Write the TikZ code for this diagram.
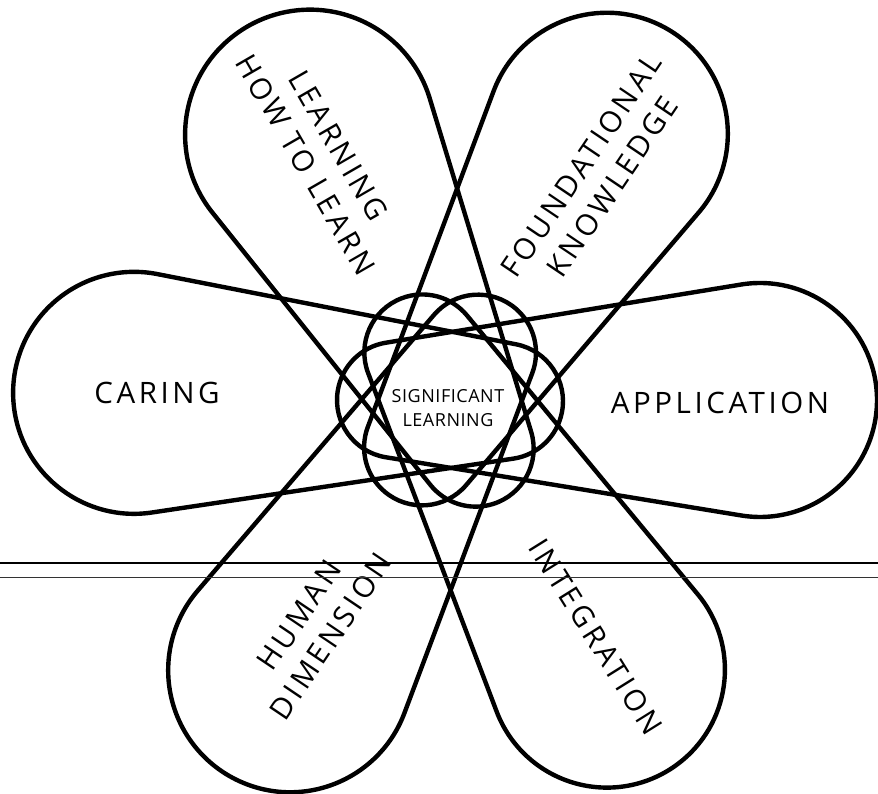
\documentclass[tikz,border=0pt]{standalone}
\usepackage{fontspec}
\newfontfamily\labfont[LetterSpace=12]{Open Sans}
\newfontfamily\cenfont[LetterSpace=3]{Open Sans}
\newcommand\tipd{55}
\newcommand\tipr{58}
\newcommand\drawpetal[3]{%
  \pgfmathsetmacro\pD{#2+\tipd}%
  \pgfmathsetmacro\pPsi{acos((\tipr-#3)/\pD)}%
  \pgfmathsetmacro\pAx{-\tipd+\tipr*cos(\pPsi)}%
  \pgfmathsetmacro\pAy{\tipr*sin(\pPsi)}%
  \pgfmathsetmacro\pBx{#2+#3*cos(\pPsi)}%
  \pgfmathsetmacro\pBy{#3*sin(\pPsi)}%
  \pgfmathsetmacro\pPsiB{360-\pPsi}%
  \begin{scope}[shift={(C)},rotate=#1]
    \draw[petal] (\pAx,\pAy) -- (\pBx,\pBy)
      arc[start angle=\pPsi, end angle=-\pPsi, radius=#3pt]
      -- (\pAx,-\pAy)
      arc[start angle=\pPsiB, end angle=\pPsi, radius=\tipr pt] -- cycle;
  \end{scope}}
\begin{document}
\begin{tikzpicture}[x=1pt,y=1pt,
  petal/.style={line width=4.4pt, line join=round, line cap=round},
  lab/.style={font=\labfont\fontsize{29.5}{38}\selectfont, align=center, inner sep=0pt},
  cen/.style={font=\cenfont\fontsize{18}{24}\selectfont, align=center, inner sep=0pt},
  rule/.style={line width=1.3pt},
  rulethin/.style={line width=1pt, black!80}]
\useasboundingbox (0,0) rectangle (878,794);
\fill[white] (0,0) rectangle (878,794);
\coordinate (C) at (450,394);
% petals: angle, distance of big end, radius of big end
\drawpetal{178.7}{316}{121}% caring
\drawpetal{0}{310}{117}% application
\drawpetal{117.8}{300}{125}% learning how to learn
\drawpetal{59.5}{309}{121}% foundational knowledge
\drawpetal{239.4}{314}{122}% human dimension
\drawpetal{300.2}{312}{118}% integration
% labels
\node[lab] (caring) at (157,401) {CARING};
\node[lab] (application) at (720,391) {APPLICATION};
\node[lab, rotate=-60] (learning) at (322,639) {LEARNING\\HOW TO LEARN};
\node[lab, rotate=56] (foundational) at (597,618) {FOUNDATIONAL\\KNOWLEDGE};
\node[lab, rotate=56] (human) at (315,168) {HUMAN\\DIMENSION};
\node[lab, rotate=-58] (integration) at (596,157) {INTEGRATION};
\node[cen] (significant) at (448,386) {SIGNIFICANT\\LEARNING};
% double horizontal rule
\coordinate (r1l) at (0,231);
\coordinate (r1r) at (878,231);
\coordinate (r2l) at (0,216);
\coordinate (r2r) at (878,216);
\draw[rule] (r1l) -- (r1r);
\draw[rulethin] (r2l) -- (r2r);
\end{tikzpicture}
\end{document}
